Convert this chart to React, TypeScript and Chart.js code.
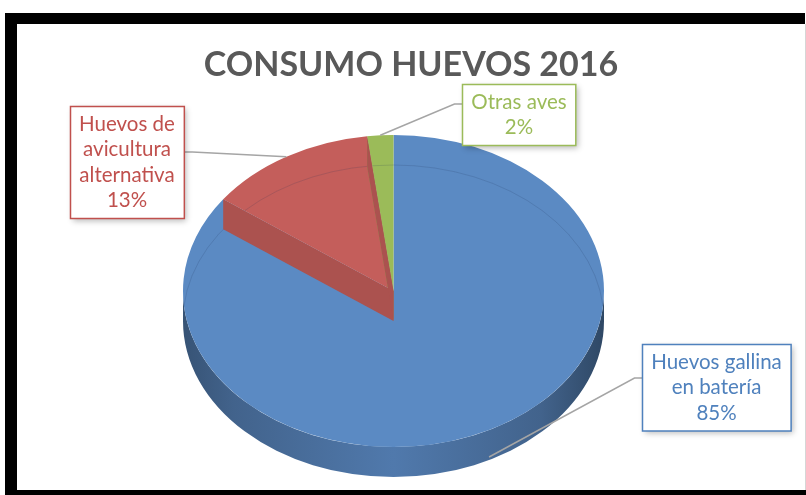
import React, { useEffect, useRef } from "react";
import { Chart, registerables } from "chart.js";

Chart.register(...registerables);

// ---- data ----
const TITLE = "CONSUMO HUEVOS 2016";
const CATEGORIES = [
  "Huevos gallina en batería",
  "Huevos de avicultura alternativa",
  "Otras aves",
];
const LABEL_LINES = [
  ["Huevos gallina", "en batería"],
  ["Huevos de", "avicultura", "alternativa"],
  ["Otras aves"],
];
const VALUES = [85, 13, 2];
const FACE_COLORS = ["#5B8AC3", "#C45E5B", "#9BBB59"];
const TEXT_COLORS = ["#4F81BD", "#C0504D", "#9BBB59"];

// ---- layout ----
const W = 806;
const H = 495;
const PIE = { cx: 393.5, cy: 291, rx: 210.5, ry: 156, depth: 30 };
const BOXES = [
  { cx: 716.5, cy: 387, side: -1, dy: -9, sink: 0.9 },
  { cx: 127, cy: 162, side: 1, dy: -10, sink: 0 },
  { cx: 519, cy: 114, side: -1, dy: -10, sink: 0 },
];
const LABEL_FONT = "20.5px Lato";

function shade(hex: string, k: number) {
  const n = parseInt(hex.slice(1), 16);
  const r = Math.round(((n >> 16) & 255) * k);
  const g = Math.round(((n >> 8) & 255) * k);
  const b = Math.round((n & 255) * k);
  return `rgb(${r},${g},${b})`;
}

const TWO_PI = Math.PI * 2;
const norm = (a: number) => ((a % TWO_PI) + TWO_PI) % TWO_PI;

const pie3d = {
  id: "pie3d",
  beforeDraw(chart: any) {
    const ctx = chart.ctx as CanvasRenderingContext2D;
    ctx.save();
    ctx.fillStyle = "#ffffff";
    ctx.fillRect(0, 0, W, H);
    ctx.fillStyle = "#000000";
    ctx.fillRect(5, 13, 800, 11);
    ctx.fillRect(5, 13, 12, 482);
    ctx.fillRect(5, 490, 801, 5);
    ctx.fillStyle = "#d6d6d6";
    ctx.fillRect(805, 24, 1, 466);
    ctx.restore();
  },
  beforeDatasetsDraw(chart: any) {
    const ctx = chart.ctx as CanvasRenderingContext2D;
    const arcs = chart.getDatasetMeta(0).data as any[];
    const { cx, cy, rx, ry, depth } = PIE;
    ctx.save();
    arcs.forEach((arc) => {
      const s = arc.startAngle;
      const e = arc.endAngle;
      const color = arc.options.backgroundColor as string;
      for (let k = -1; k <= 1; k++) {
        const lo = Math.max(s, TWO_PI * k);
        const hi = Math.min(e, Math.PI + TWO_PI * k);
        if (hi <= lo) continue;
        const g = ctx.createLinearGradient(cx - rx, 0, cx + rx, 0);
        g.addColorStop(0, shade(color, 0.6));
        g.addColorStop(0.12, shade(color, 0.72));
        g.addColorStop(0.5, shade(color, 0.88));
        g.addColorStop(0.85, shade(color, 0.72));
        g.addColorStop(1, shade(color, 0.52));
        ctx.beginPath();
        ctx.ellipse(cx, cy, rx, ry, 0, lo, hi, false);
        ctx.ellipse(cx, cy + depth, rx, ry, 0, hi, lo, true);
        ctx.closePath();
        ctx.fillStyle = g;
        ctx.fill();
      }
    });
    ctx.restore();
    const a0 = arcs[0];
    ctx.save();
    ctx.translate(cx, cy);
    ctx.scale(rx / a0.outerRadius, ry / a0.outerRadius);
    ctx.translate(-a0.x, -a0.y);
  },
  afterDatasetsDraw(chart: any) {
    const ctx = chart.ctx as CanvasRenderingContext2D;
    ctx.restore();
    const arcs = chart.getDatasetMeta(0).data as any[];
    const { cx, cy, rx, ry, depth } = PIE;

    // faint bottom rim seen through the top face
    ctx.save();
    ctx.beginPath();
    ctx.ellipse(cx, cy, rx, ry, 0, 0, TWO_PI);
    ctx.clip();
    ctx.beginPath();
    ctx.ellipse(cx, cy + depth, rx, ry, 0, 0, TWO_PI);
    ctx.strokeStyle = "rgba(30,50,90,0.16)";
    ctx.lineWidth = 1;
    ctx.stroke();
    ctx.restore();

    // radial walls of small back slices
    const wall = (theta: number, color: string) => {
      const px = cx + rx * Math.cos(theta);
      const py = cy + ry * Math.sin(theta);
      ctx.beginPath();
      ctx.moveTo(px, py);
      ctx.lineTo(cx, cy);
      ctx.lineTo(cx, cy + depth);
      ctx.lineTo(px, py + depth);
      ctx.closePath();
      ctx.fillStyle = color;
      ctx.fill();
    };
    for (let i = arcs.length - 1; i >= 0; i--) {
      const arc = arcs[i];
      const sweep = arc.endAngle - arc.startAngle;
      const s = norm(arc.startAngle);
      const e = norm(arc.endAngle);
      const back = (a: number) => a > Math.PI && a < TWO_PI;
      if (sweep < Math.PI && back(s) && back(e)) {
        const c = shade(arc.options.backgroundColor as string, 0.87);
        wall(arc.startAngle, c);
        wall(arc.endAngle, c);
      }
    }
  },
  afterDraw(chart: any) {
    const ctx = chart.ctx as CanvasRenderingContext2D;
    const arcs = chart.getDatasetMeta(0).data as any[];
    const { cx, cy, rx, ry, depth } = PIE;
    const total = VALUES.reduce((a, b) => a + b, 0);
    ctx.save();
    ctx.font = LABEL_FONT;
    arcs.forEach((arc, i) => {
      const b = BOXES[i];
      const lines = [...LABEL_LINES[i], Math.round((VALUES[i] / total) * 100) + "%"];
      const lh = 25.5;
      const padX = 9;
      const padY = 5;
      const w = Math.max(...lines.map((l) => ctx.measureText(l).width)) + 2 * padX;
      const h = lines.length * lh + 2 * padY;
      const left = Math.round(b.cx - w / 2) + 0.5;
      const top = Math.round(b.cy - h / 2) + 0.5;

      const mid = (arc.startAngle + arc.endAngle) / 2;
      const tx = cx + rx * Math.cos(mid);
      const ty = cy + ry * Math.sin(mid) + depth * b.sink;
      const sx = b.side < 0 ? left : left + w;
      const sy = b.cy + b.dy;
      ctx.beginPath();
      ctx.moveTo(sx, sy);
      ctx.lineTo(sx + b.side * 8, sy);
      ctx.lineTo(tx, ty);
      ctx.strokeStyle = "#A5A5A5";
      ctx.lineWidth = 1.5;
      ctx.stroke();

      ctx.save();
      ctx.shadowColor = "rgba(0,0,0,0.28)";
      ctx.shadowBlur = 6;
      ctx.shadowOffsetX = 2;
      ctx.shadowOffsetY = 2;
      ctx.fillStyle = "#ffffff";
      ctx.fillRect(left, top, w, h);
      ctx.restore();
      ctx.strokeStyle = TEXT_COLORS[i];
      ctx.lineWidth = 1.5;
      ctx.strokeRect(left, top, w, h);

      ctx.fillStyle = TEXT_COLORS[i];
      ctx.textAlign = "center";
      ctx.textBaseline = "middle";
      lines.forEach((l, j) => {
        ctx.fillText(l, b.cx, top + padY + lh * (j + 0.5));
      });
    });
    ctx.restore();
  },
};

export default function App() {
  const ref = useRef<HTMLCanvasElement | null>(null);
  useEffect(() => {
    if (!ref.current) return;
    const chart = new Chart(ref.current, {
      type: "pie",
      data: {
        labels: CATEGORIES,
        datasets: [
          {
            data: VALUES,
            backgroundColor: FACE_COLORS,
            borderWidth: 0,
            clip: false,
          } as any,
        ],
      },
      options: {
        responsive: false,
        animation: false,
        events: [],
        layout: { padding: { left: 17, right: 1, top: 24, bottom: 5 } },
        plugins: {
          legend: { display: false },
          tooltip: { enabled: false },
          title: {
            display: true,
            text: TITLE,
            color: "#595959",
            font: { family: "Lato", size: 34, weight: "bold" },
            padding: { top: 21, bottom: 10 },
          },
        },
      } as any,
      plugins: [pie3d],
    });
    return () => chart.destroy();
  }, []);
  return (
    <div style={{ position: "absolute", left: 0, top: 0, width: W, height: H }}>
      <canvas ref={ref} width={W} height={H} style={{ display: "block", width: W, height: H }} />
    </div>
  );
}
